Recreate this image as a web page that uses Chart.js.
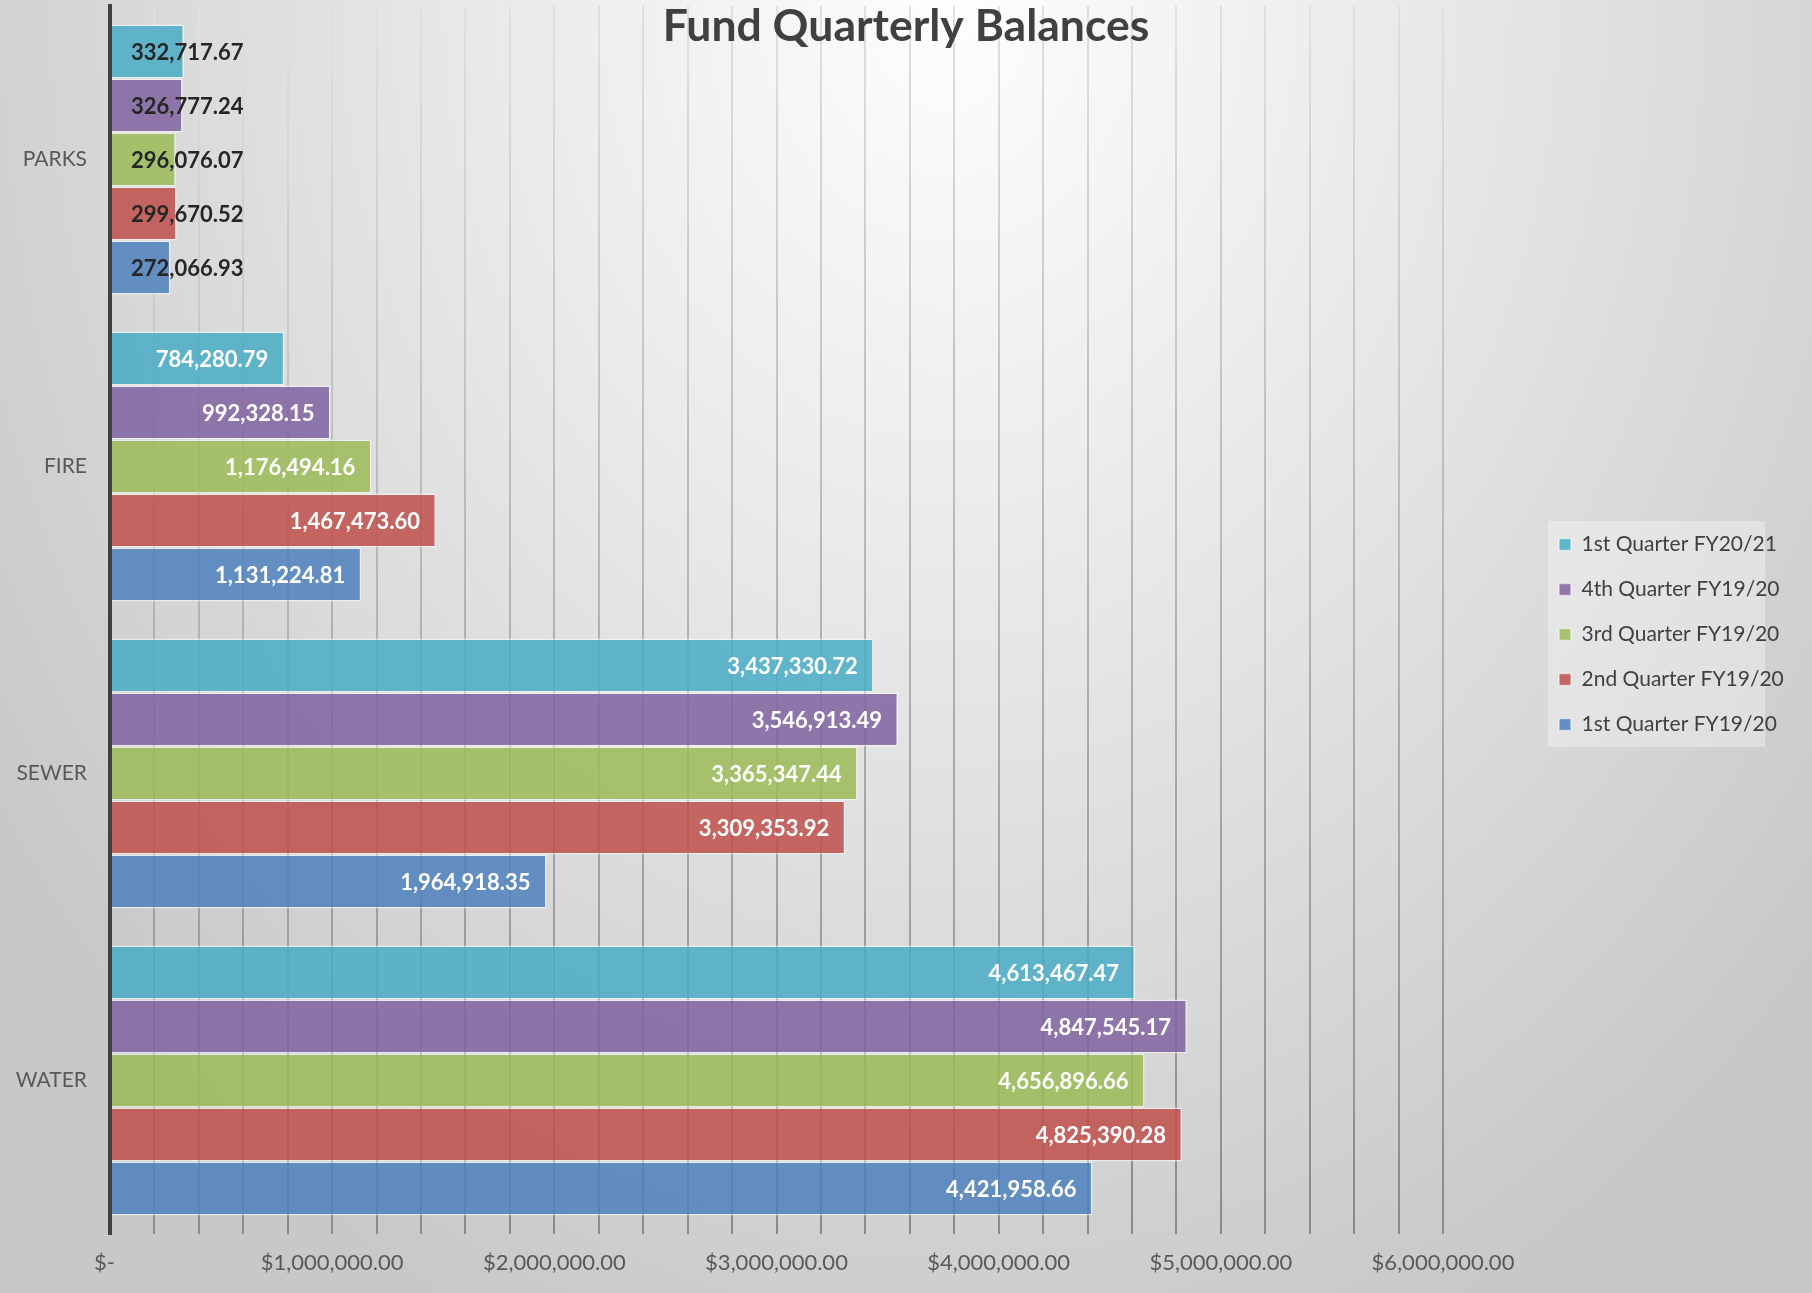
<!DOCTYPE html>
<html>
<head>
<meta charset="utf-8">
<script src="https://cdn.jsdelivr.net/npm/chart.js@4.4.1/dist/chart.umd.min.js"></script>
<style>
  html, body { margin: 0; padding: 0; }
  body {
    width: 1812px; height: 1293px; overflow: hidden;
    background: radial-gradient(ellipse 1150px 1450px at 950px 0px, #fefefe 0%, #e4e4e4 50%, #c8c8c8 100%);
  }
  #wrap { position: relative; width: 1812px; height: 1293px; }
</style>
</head>
<body>
<div id="wrap"><canvas id="c" width="1812" height="1293"></canvas></div>
<script>
// ---- data ----
const categories = ['PARKS', 'FIRE', 'SEWER', 'WATER'];
const seriesNames = ['1st Quarter FY20/21', '4th Quarter FY19/20', '3rd Quarter FY19/20', '2nd Quarter FY19/20', '1st Quarter FY19/20'];
const q1FY2021 = [332717.67, 784280.79, 3437330.72, 4613467.47];
const q4FY1920 = [326777.24, 992328.15, 3546913.49, 4847545.17];
const q3FY1920 = [296076.07, 1176494.16, 3365347.44, 4656896.66];
const q2FY1920 = [299670.52, 1467473.60, 3309353.92, 4825390.28];
const q1FY1920 = [272066.93, 1131224.81, 1964918.35, 4421958.66];
const xTickLabels = ['$-  ', '$1,000,000.00', '$2,000,000.00', '$3,000,000.00', '$4,000,000.00', '$5,000,000.00', '$6,000,000.00'];
const chartTitle = 'Fund Quarterly Balances';

const seriesValues = [q1FY2021, q4FY1920, q3FY1920, q2FY1920, q1FY1920];
const seriesColors = [
  'rgba(75,172,198,0.86)',
  'rgba(128,100,162,0.86)',
  'rgba(155,187,89,0.86)',
  'rgba(192,80,77,0.86)',
  'rgba(79,129,189,0.86)'
];

const FONT = 'Lato, "Open Sans", sans-serif';

function gridGradient(ctx) {
  const chart = ctx.chart;
  const a = chart.chartArea;
  if (!a) return '#b0b0b0';
  const g = chart.ctx.createLinearGradient(0, a.top, 0, a.bottom);
  g.addColorStop(0, '#e0e0e0');
  g.addColorStop(0.5, '#b2b2b2');
  g.addColorStop(1, '#8a8a8a');
  return g;
}

const fmt = (v) => v.toLocaleString('en-US', { minimumFractionDigits: 2, maximumFractionDigits: 2 });

const dataLabels = {
  id: 'dataLabels',
  afterDatasetsDraw(chart) {
    const ctx = chart.ctx;
    ctx.save();
    ctx.font = 'bold 22px ' + FONT;
    ctx.textBaseline = 'middle';
    chart.data.datasets.forEach((ds, di) => {
      const meta = chart.getDatasetMeta(di);
      meta.data.forEach((bar, i) => {
        const txt = fmt(ds.data[i]);
        const w = ctx.measureText(txt).width;
        const len = bar.x - bar.base;
        if (w + 34 > len) {
          ctx.fillStyle = '#262626';
          ctx.textAlign = 'left';
          ctx.fillText(txt, bar.base + 20, bar.y + 1);
        } else {
          ctx.fillStyle = '#ffffff';
          ctx.textAlign = 'right';
          ctx.fillText(txt, bar.x - 16, bar.y + 1);
        }
      });
    });
    ctx.restore();
  }
};

const legendPlace = {
  id: 'legendPlace',
  beforeUpdate(chart) {
    const lg = chart.legend;
    if (!lg || lg._patched) return;
    lg._patched = true;
    const fit = lg.fit;
    lg.fit = function () { fit.call(this); this.width = 369; };
    const draw = lg.draw;
    lg.draw = function (area) {
      const c = this.ctx;
      const pad = this.options.labels.padding;
      const startX = this.left + pad;
      const startY = this.top + pad;
      const dx = 1559 - startX;
      const dy = 534 - startY;
      c.save();
      c.translate(dx, dy);
      c.fillStyle = 'rgba(255,255,255,0.32)';
      c.fillRect(startX - 11, startY - 13, 217, 226);
      draw.call(this, area);
      c.restore();
    };
  }
};

new Chart(document.getElementById('c'), {
  type: 'bar',
  data: {
    labels: categories,
    datasets: seriesNames.map((name, k) => ({
      label: name,
      data: seriesValues[k],
      backgroundColor: seriesColors[k],
      borderColor: 'rgba(255,255,255,0.55)',
      borderWidth: 1.5,
      categoryPercentage: 0.88,
      barPercentage: 1.0
    }))
  },
  options: {
    indexAxis: 'y',
    responsive: false,
    animation: false,
    devicePixelRatio: 1,
    layout: { padding: { left: 0, right: 0, top: 0, bottom: 0 } },
    plugins: {
      title: {
        display: true,
        text: chartTitle,
        color: '#404040',
        font: { family: FONT, size: 44.5, weight: 'bold', lineHeight: 1.2 },
        padding: { top: 0, bottom: -47.4 }
      },
      legend: {
        display: true,
        position: 'right',
        align: 'start',
        labels: {
          color: '#404040',
          font: { family: FONT, size: 21 },
          boxWidth: 12,
          boxHeight: 12,
          padding: 24
        }
      },
      tooltip: { enabled: false }
    },
    scales: {
      x: {
        type: 'linear',
        min: 0,
        max: 6000000,
        grid: {
          display: true,
          color: gridGradient,
          lineWidth: 2,
          drawTicks: false,
          z: -1
        },
        border: { display: false },
        ticks: {
          stepSize: 200000,
          autoSkip: false,
          maxRotation: 0,
          padding: 16,
          color: '#595959',
          font: { family: FONT, size: 22 },
          callback: (v) => (v % 1000000 === 0 ? xTickLabels[Math.round(v / 1000000)] : '')
        },
        afterFit: (s) => { s.height = 59; s.paddingLeft = 0; s.paddingRight = 0; }
      },
      y: {
        grid: { display: false, drawTicks: false },
        border: { display: true, color: '#404040', width: 4, z: 1 },
        ticks: {
          color: '#595959',
          font: { family: FONT, size: 21 },
          padding: 23
        },
        afterFit: (s) => { s.width = 110; s.paddingTop = 0; s.paddingBottom = 0; }
      }
    }
  },
  plugins: [dataLabels, legendPlace]
});
</script>
</body>
</html>
